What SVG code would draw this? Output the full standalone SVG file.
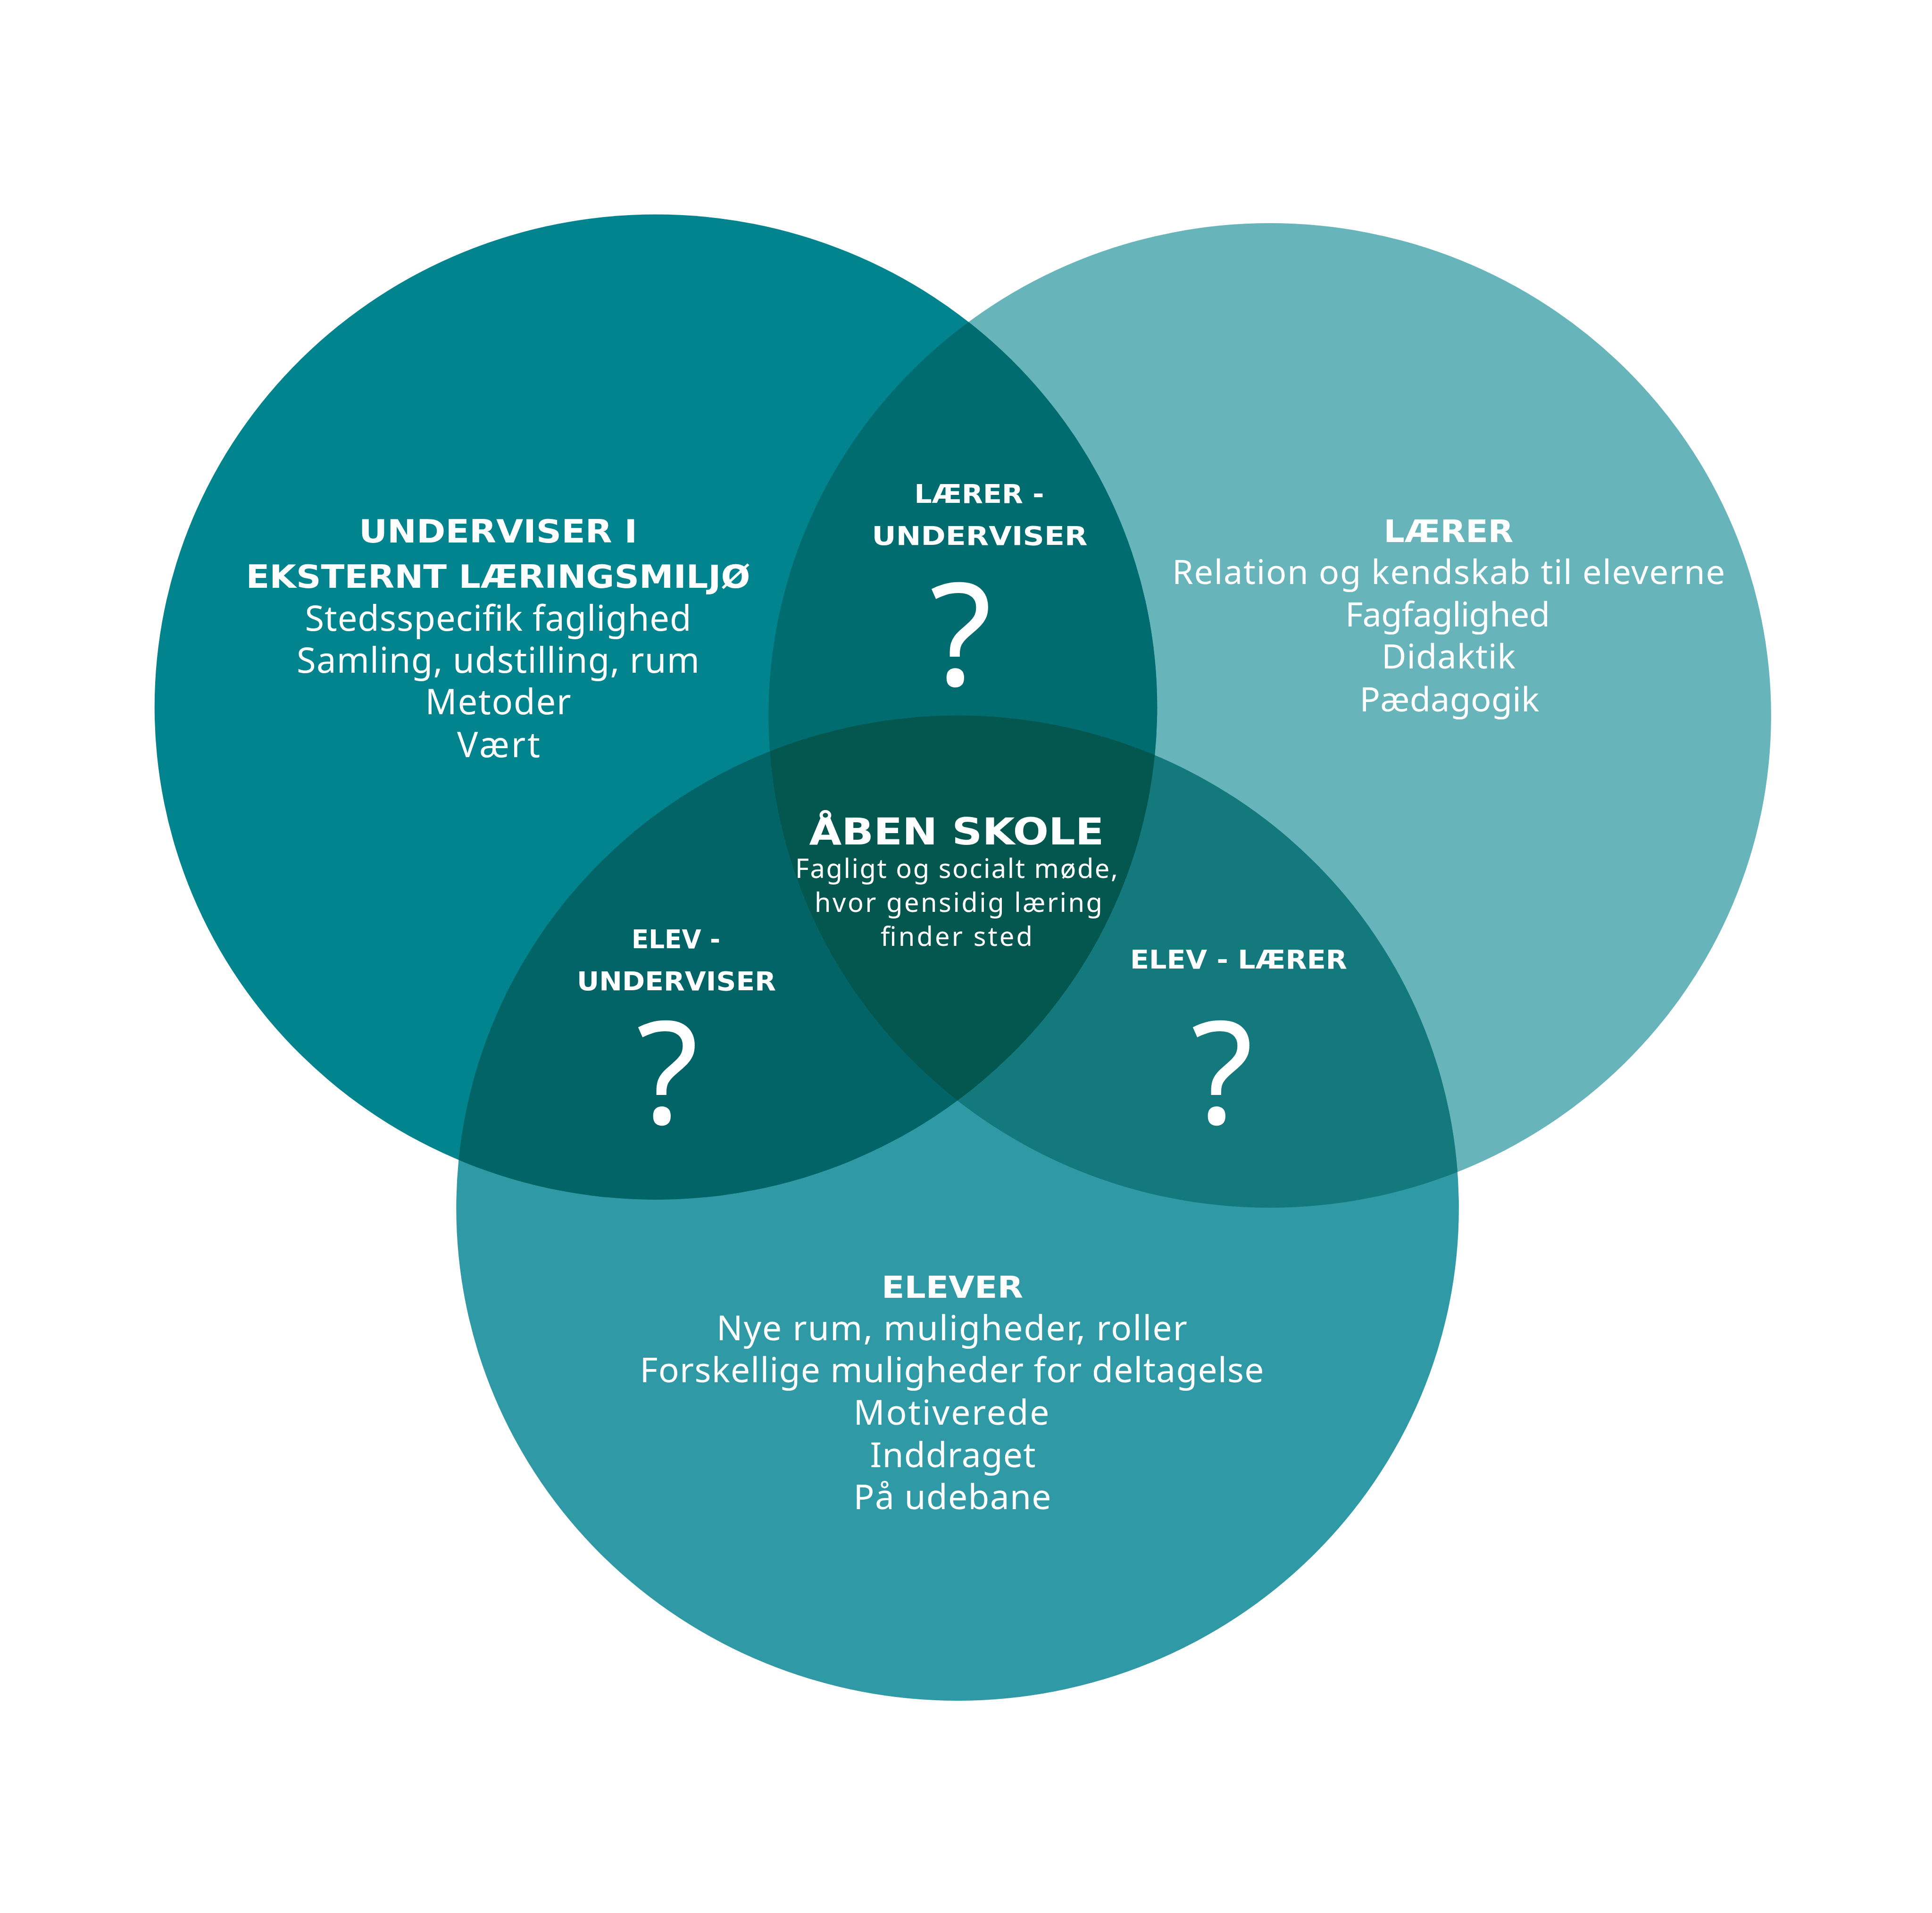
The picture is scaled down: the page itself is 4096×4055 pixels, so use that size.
<svg xmlns="http://www.w3.org/2000/svg" xmlns:xlink="http://www.w3.org/1999/xlink" width="4096" height="4055" viewBox="0 0 4096 4055">
<style>
text{font-family:"Noto Sans","Liberation Sans",sans-serif;fill:#ffffff;text-anchor:middle}
.h,.hs{font-family:"DejaVu Sans","Noto Sans",sans-serif;font-weight:700}
.hs{font-size:55px}
.r{font-weight:400}
.q{font-weight:400;font-size:303px}
</style>
<defs>
<ellipse id="eL" cx="1390.5" cy="1498.7" rx="1062.8" ry="1044.2"/>
<ellipse id="eR" cx="2692.1" cy="1516.6" rx="1062.8" ry="1043.5"/>
<ellipse id="eB" cx="2030.1" cy="2560.8" rx="1062.8" ry="1044.2"/>
<clipPath id="cL"><use href="#eL"/></clipPath>
<clipPath id="cR"><use href="#eR"/></clipPath>
</defs>
<rect width="4096" height="4055" fill="#ffffff"/>
<g id="circle-laerer"><use href="#eR" fill="#67B4BB"/></g>
<g id="circle-elever"><use href="#eB" fill="#2F9AA5"/></g>
<g id="circle-underviser"><use href="#eL" fill="#02848F"/></g>
<g id="overlap-laerer-underviser" clip-path="url(#cL)"><use href="#eR" fill="#016C6F"/></g>
<g id="overlap-elev-underviser" clip-path="url(#cL)"><use href="#eB" fill="#036467"/></g>
<g id="overlap-elev-laerer" clip-path="url(#cR)"><use href="#eB" fill="#14797D"/></g>
<g id="overlap-center" clip-path="url(#cL)"><g clip-path="url(#cR)"><use href="#eB" fill="#03574F"/></g></g>

<g id="text-underviser">
<text class="h" x="1056" y="1150" font-size="67" textLength="590" lengthAdjust="spacingAndGlyphs">UNDERVISER I</text>
<text class="h" x="1056" y="1246" font-size="67" textLength="1069" lengthAdjust="spacingAndGlyphs">EKSTERNT LÆRINGSMILJØ</text>
<text class="r" x="1056" y="1337" font-size="74" textLength="819">Stedsspecifik faglighed</text>
<text class="r" x="1056" y="1426" font-size="74" textLength="854">Samling, udstilling, rum</text>
<text class="r" x="1056" y="1514" font-size="74" textLength="309">Metoder</text>
<text class="r" x="1057" y="1605" font-size="74" textLength="176">Vært</text>
</g>

<g id="text-laerer-underviser">
<text class="hs" x="2076" y="1066" textLength="275" lengthAdjust="spacingAndGlyphs">LÆRER -</text>
<text class="hs" x="2077" y="1155" textLength="457" lengthAdjust="spacingAndGlyphs">UNDERVISER</text>
<text class="q" x="2037" y="1453">?</text>
</g>

<g id="text-laerer">
<text class="h" x="3071" y="1149" font-size="66" textLength="275" lengthAdjust="spacingAndGlyphs">LÆRER</text>
<text class="r" x="3071" y="1238" font-size="72" textLength="1172">Relation og kendskab til eleverne</text>
<text class="r" x="3069" y="1328" font-size="72" textLength="434">Fagfaglighed</text>
<text class="r" x="3071" y="1417" font-size="72" textLength="284">Didaktik</text>
<text class="r" x="3073" y="1508" font-size="72" textLength="381">Pædagogik</text>
</g>

<g id="text-aaben-skole">
<text class="h" x="2028" y="1790" font-size="78" textLength="625" lengthAdjust="spacingAndGlyphs">ÅBEN SKOLE</text>
<text class="r" x="2028" y="1861" font-size="56" textLength="684">Fagligt og socialt møde,</text>
<text class="r" x="2032" y="1933" font-size="56" textLength="610">hvor gensidig læring</text>
<text class="r" x="2028" y="2005" font-size="56" textLength="322">finder sted</text>
</g>

<g id="text-elev-underviser">
<text class="hs" x="1433" y="2010" textLength="188" lengthAdjust="spacingAndGlyphs">ELEV -</text>
<text class="hs" x="1434" y="2099" textLength="422" lengthAdjust="spacingAndGlyphs">UNDERVISER</text>
<text class="q" x="1415" y="2382">?</text>
</g>

<g id="text-elev-laerer">
<text class="hs" x="2626" y="2053" textLength="460" lengthAdjust="spacingAndGlyphs">ELEV - LÆRER</text>
<text class="q" x="2591" y="2382">?</text>
</g>

<g id="text-elever">
<text class="h" x="2019" y="2751" font-size="64" textLength="300" lengthAdjust="spacingAndGlyphs">ELEVER</text>
<text class="r" x="2018" y="2841" font-size="73" textLength="998">Nye rum, muligheder, roller</text>
<text class="r" x="2018" y="2930" font-size="73" textLength="1323">Forskellige muligheder for deltagelse</text>
<text class="r" x="2017" y="3020" font-size="73" textLength="415">Motiverede</text>
<text class="r" x="2020" y="3110" font-size="73" textLength="351">Inddraget</text>
<text class="r" x="2019" y="3199" font-size="73" textLength="419">På udebane</text>
</g>
</svg>
